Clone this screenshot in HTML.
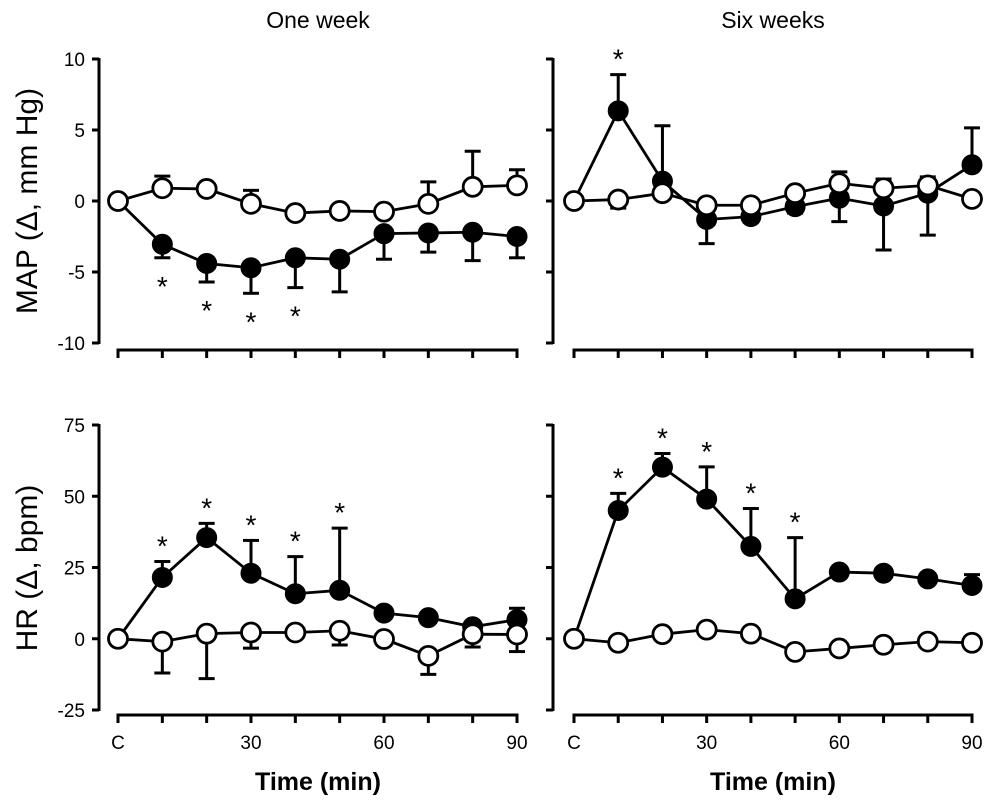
<!DOCTYPE html>
<html><head><meta charset="utf-8"><style>
html,body{margin:0;padding:0;background:#fff}
svg{display:block;font-family:"Liberation Sans",Arial,sans-serif}
</style></head><body>
<svg id="chart" width="1000" height="809" viewBox="0 0 1000 809"></svg>
<script>
const timeCategories=["C","10","20","30","40","50","60","70","80","90"];
const xTickLabels=["C","30","60","90"];
const mapTicks=[10,5,0,-5,-10];
const hrTicks=[75,50,25,0,-25];
// One week MAP
const w1MapFilled=[0,-3.05,-4.4,-4.7,-4.0,-4.1,-2.3,-2.25,-2.2,-2.5];
const w1MapFilledErr=[0,-0.95,-1.3,-1.8,-2.1,-2.3,-1.8,-1.35,-2.0,-1.5];
const w1MapOpen=[0,0.9,0.85,-0.2,-0.85,-0.7,-0.75,-0.2,1.0,1.1];
const w1MapOpenErr=[0,0.85,0,0.95,0,0,0,1.55,2.5,1.1];
const w1MapStars=[0,1,1,1,1,0,0,0,0,0];
// Six weeks MAP
const w6MapFilled=[0,6.35,1.4,-1.3,-1.1,-0.4,0.2,-0.35,0.55,2.55];
const w6MapFilledErr=[0,2.55,3.9,-1.7,-0.4,-0.45,-1.65,-3.1,-2.95,2.6];
const w6MapOpen=[0,0.1,0.55,-0.3,-0.3,0.55,1.25,0.9,1.1,0.15];
const w6MapOpenErr=[0,-0.6,0,0,0,0,0.8,0.65,0.6,0];
const w6MapStars=[0,1,0,0,0,0,0,0,0,0];
// One week HR
const w1HrFilled=[0,21.5,35.5,23,15.8,17,9,7.4,4.2,6.7];
const w1HrFilledErr=[0,5.6,5,11.5,13,21.8,0,0,0,4];
const w1HrOpen=[0,-1,1.8,2.2,2.2,2.8,-0.1,-6,1.6,1.5];
const w1HrOpenErr=[0,-11,-15.8,-5.5,0,-5,0,-6.5,-4.5,-6];
const w1HrStars=[0,1,1,1,1,1,0,0,0,0];
// Six weeks HR
const w6HrFilled=[0,45,60.2,49,32.4,14,23.4,23,21,18.7];
const w6HrFilledErr=[0,6,4.8,11.3,13.3,21.5,0,0,0,3.8];
const w6HrOpen=[0,-1.4,1.6,3.2,1.8,-4.6,-3.4,-2.1,-1,-1.4];
const w6HrOpenErr=[0,0,0,0,0,0,0,0,0,0];
const w6HrStars=[0,1,1,1,1,1,0,0,0,0];

const NS="http://www.w3.org/2000/svg";
const svg=document.getElementById('chart');
function mk(tag,attrs,parent){const e=document.createElementNS(NS,tag);for(const k in attrs)e.setAttribute(k,attrs[k]);(parent||svg).appendChild(e);return e;}

function panel(o){
  const g=mk('g',{});
  
  
  const xs=i=>o.x0+i*(o.x1-o.x0)/9;
  const ys=v=>o.yTop+(o.vMax-v)*(o.yBot-o.yTop)/(o.vMax-o.vMin);
  const ya=mk('line',{x1:o.ax,y1:ys(o.vMax)-1,x2:o.ax,y2:ys(o.vMin)+1,stroke:'#000','stroke-width':3},g);
  
  
  o.ticks.forEach(t=>{
    mk('line',{x1:o.ax-7,y1:ys(t),x2:o.ax,y2:ys(t),stroke:'#000','stroke-width':3},g);
    if(o.labels){const tx=mk('text',{x:o.ax-14,y:ys(t)+7,'text-anchor':'end','font-size':19},g);tx.textContent=t;
      
      }
  });
  const xa=mk('line',{x1:o.x0-1.5,y1:o.xAxisY,x2:o.x1+1.5,y2:o.xAxisY,stroke:'#000','stroke-width':3},g);
  
  
  timeCategories.forEach((c,i)=>{mk('line',{x1:xs(i),y1:o.xAxisY,x2:xs(i),y2:o.xAxisY+8,stroke:'#000','stroke-width':3},g);});
  if(o.xlabels){xTickLabels.forEach(l=>{const i=timeCategories.indexOf(l);
    const tx=mk('text',{x:xs(i),y:o.xAxisY+34,'text-anchor':'middle','font-size':19},g);tx.textContent=l;
    
    });}
  function errs(vals,e){vals.forEach((v,i)=>{if(!e[i])return;const y1=ys(v),y2=ys(v+e[i]);
    mk('line',{x1:xs(i),y1:y1,x2:xs(i),y2:y2,stroke:'#000','stroke-width':3},g);
    mk('line',{x1:xs(i)-8,y1:y2,x2:xs(i)+8,y2:y2,stroke:'#000','stroke-width':3},g);});}
  errs(o.open,o.openErr);errs(o.filled,o.filledErr);
  function line(vals,name){const p=mk('polyline',{points:vals.map((v,i)=>xs(i)+','+ys(v)).join(' '),fill:'none',stroke:'#000','stroke-width':2.8},g);
    
    }
  line(o.filled,'filled-series-line');line(o.open,'open-series-line');
  o.filled.forEach((v,i)=>{if(i===0)return;const c=mk('circle',{cx:xs(i),cy:ys(v),r:9.5,fill:'#000',stroke:'#000','stroke-width':2},g);
    
    });
  o.open.forEach((v,i)=>{const c=mk('circle',{cx:xs(i),cy:ys(v),r:9.5,fill:'#fff',stroke:'#000','stroke-width':2.8},g);
    
    });
  o.stars.forEach((s,i)=>{if(!s)return;const v=o.filled[i],e=o.filledErr[i];
    let y;if(o.starBelow){y=ys(v+Math.min(0,e))+38;}else{y=ys(v+Math.max(0,e))-6;}
    const tx=mk('text',{x:xs(i),y:y,'text-anchor':'middle','font-size':28},g);tx.textContent='*';
    
    });
}
panel({name:'panel-map-one-week',x0:118,x1:517,ax:99,yTop:59,yBot:343,vMax:10,vMin:-10,ticks:mapTicks,labels:true,xAxisY:350,xlabels:false,
  filled:w1MapFilled,filledErr:w1MapFilledErr,open:w1MapOpen,openErr:w1MapOpenErr,stars:w1MapStars,starBelow:true});
panel({name:'panel-map-six-weeks',x0:574,x1:972,ax:553,yTop:59,yBot:343,vMax:10,vMin:-10,ticks:mapTicks,labels:false,xAxisY:350,xlabels:false,
  filled:w6MapFilled,filledErr:w6MapFilledErr,open:w6MapOpen,openErr:w6MapOpenErr,stars:w6MapStars,starBelow:false});
panel({name:'panel-hr-one-week',x0:118,x1:517,ax:99,yTop:425,yBot:710,vMax:75,vMin:-25,ticks:hrTicks,labels:true,xAxisY:715,xlabels:true,
  filled:w1HrFilled,filledErr:w1HrFilledErr,open:w1HrOpen,openErr:w1HrOpenErr,stars:w1HrStars,starBelow:false});
panel({name:'panel-hr-six-weeks',x0:574,x1:972,ax:553,yTop:425,yBot:710,vMax:75,vMin:-25,ticks:hrTicks,labels:false,xAxisY:715,xlabels:true,
  filled:w6HrFilled,filledErr:w6HrFilledErr,open:w6HrOpen,openErr:w6HrOpenErr,stars:w6HrStars,starBelow:false});
</script>
<svg style="position:absolute;left:0;top:0" width="1000" height="809">
<text x="318" y="28" text-anchor="middle" font-size="23" font-family="Liberation Sans, sans-serif">One week</text>
<text x="773" y="28" text-anchor="middle" font-size="23" font-family="Liberation Sans, sans-serif">Six weeks</text>
<text transform="translate(37,201) rotate(-90)" text-anchor="middle" font-size="30" font-family="Liberation Sans, sans-serif">MAP (Δ, mm Hg)</text>
<text transform="translate(37,568) rotate(-90)" text-anchor="middle" font-size="30" font-family="Liberation Sans, sans-serif">HR (Δ, bpm)</text>
<text x="318" y="790" text-anchor="middle" font-size="25" font-weight="bold" font-family="Liberation Sans, sans-serif">Time (min)</text>
<text x="773" y="790" text-anchor="middle" font-size="25" font-weight="bold" font-family="Liberation Sans, sans-serif">Time (min)</text>
</svg>
</body></html>
